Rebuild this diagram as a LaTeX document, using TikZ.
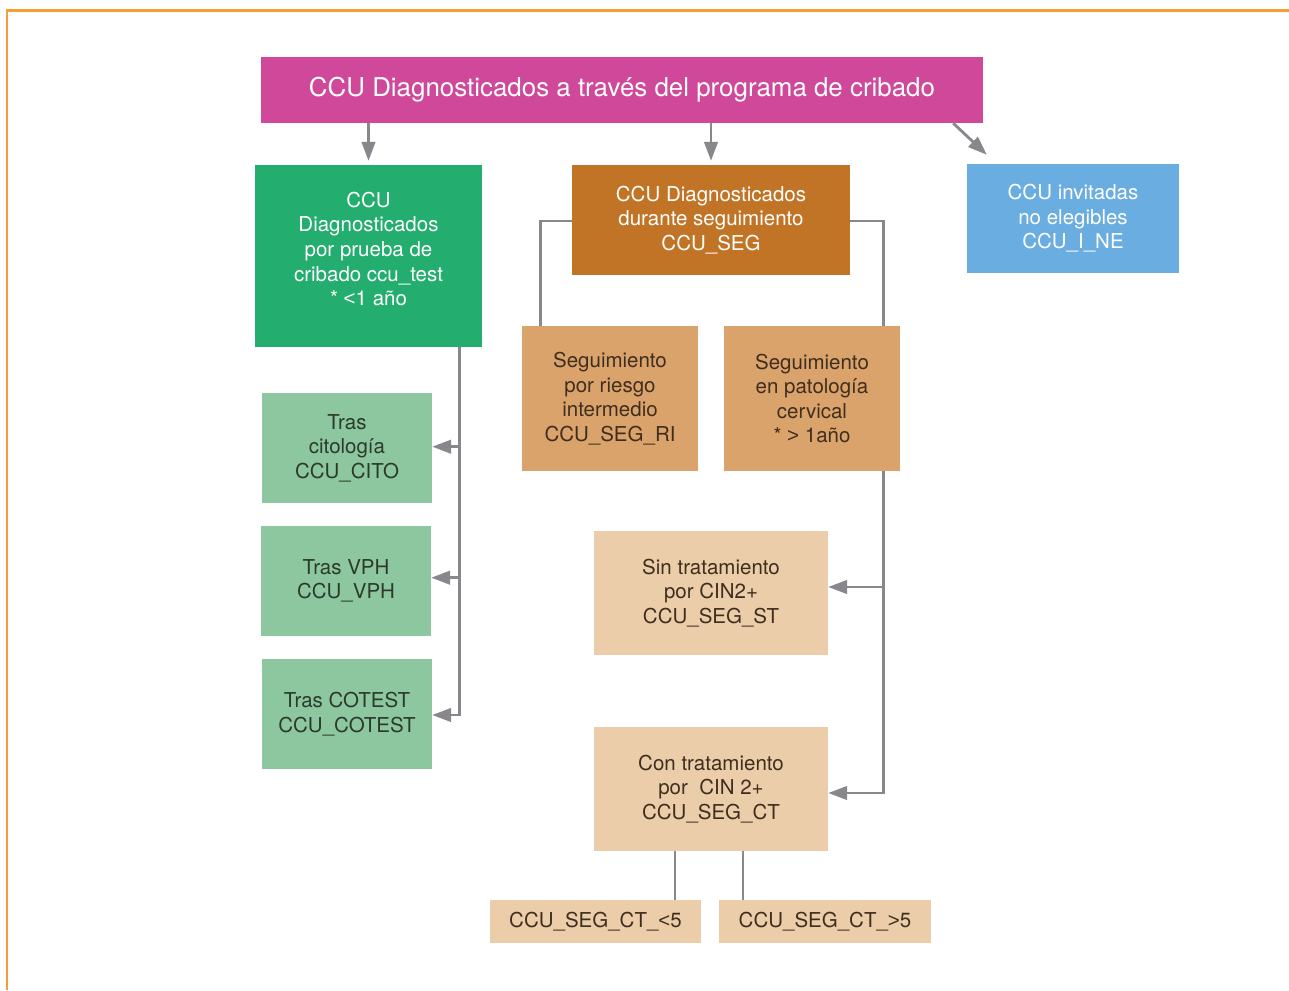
\documentclass[tikz,border=0pt]{standalone}
\usepackage{fontspec}
\setmainfont{TeX Gyre Heros}
\newfontfamily\cmpfont{Liberation Sans}
\newcommand{\lessthan}{{\cmpfont <}}
\newcommand{\morethan}{{\cmpfont >}}
\usetikzlibrary{arrows.meta,calc}

\definecolor{frameorange}{HTML}{F89D35}
\definecolor{titlemag}{HTML}{CF4899}
\definecolor{dgreen}{HTML}{23AD6E}
\definecolor{dorange}{HTML}{C17425}
\definecolor{lblue}{HTML}{6AADE0}
\definecolor{morange}{HTML}{DBA36C}
\definecolor{lgreen}{HTML}{8DC79F}
\definecolor{peach}{HTML}{EBCDA9}
\definecolor{linegray}{HTML}{87888C}
\definecolor{txtbrown}{HTML}{3F2E1E}
\definecolor{txtgreen}{HTML}{2B3A2B}

\tikzset{
  box/.style={rectangle, inner sep=0pt, align=center,
    font=\fontsize{20.5}{24.6}\selectfont},
  darkbox/.style={box, text=white},
  lightbox/.style={box, text=txtbrown},
  greenbox/.style={box, fill=lgreen, text=txtgreen,
    minimum width=170pt, minimum height=110pt},
  conn/.style={draw=linegray, line width=2.8pt},
  arr/.style={conn, -{Triangle[length=19pt,width=13.5pt]}},
}

\begin{document}
\begin{tikzpicture}[x=1pt,y=-1pt]
\useasboundingbox (0,0) rectangle (1289,990);

% frame
\draw[frameorange, line width=2.4pt] (7,990) -- (7,10.5) -- (1289,10.5);

% title
\node[darkbox, fill=titlemag, minimum width=722pt, minimum height=66pt,
  font=\fontsize{25.9}{30}\selectfont] (title) at (622,90)
  {CCU Diagnosticados a través del programa de cribado};

% second level
\node[box, fill=dgreen, minimum width=227pt, minimum height=182pt] (diag) at (368.5,256) {};
\node[darkbox] (diagtext) at ($(diag.center)+(0,-7)$)
  {CCU\\Diagnosticados\\por prueba de\\cribado ccu\_test\\* \lessthan1 año};
\node[darkbox, fill=dorange, minimum width=278pt, minimum height=110pt] (seg) at (711,220)
  {CCU Diagnosticados\\durante seguimiento\\CCU\_SEG};
\node[darkbox, fill=lblue, minimum width=212pt, minimum height=109pt] (ine) at (1073,218.5)
  {CCU invitadas\\no elegibles\\CCU\_I\_NE};

% follow-up branches
\node[lightbox, fill=morange, minimum width=176pt, minimum height=145pt] (ri) at (610,398.5)
  {Seguimiento\\por riesgo\\intermedio\\CCU\_SEG\_RI};
\node[lightbox, fill=morange, minimum width=176pt, minimum height=145pt] (pat) at (812,398.5)
  {Seguimiento\\en patología\\cervical\\* \morethan\ 1año};

% screening test branches
\node[greenbox] (cito) at (347,448) {Tras\\citología\\CCU\_CITO};
\node[greenbox] (vph) at (346,581) {Tras VPH\\CCU\_VPH};
\node[greenbox] (cotest) at (347,714) {Tras COTEST\\CCU\_COTEST};

% treatment branches
\node[lightbox, fill=peach, minimum width=234pt, minimum height=124pt] (sin) at (711,593)
  {Sin tratamiento\\por CIN2+\\CCU\_SEG\_ST};
\node[lightbox, fill=peach, minimum width=234pt, minimum height=124pt] (con) at (711,789)
  {Con tratamiento\\por\ \ CIN 2+\\CCU\_SEG\_CT};
\node[lightbox, fill=peach, minimum width=211pt, minimum height=43pt] (ctlt) at (595.5,921.5)
  {CCU\_SEG\_CT\_\lessthan5};
\node[lightbox, fill=peach, minimum width=212pt, minimum height=43pt] (ctgt) at (825,921.5)
  {CCU\_SEG\_CT\_\morethan5};

% connectors from the title
\draw[arr, shorten >=4pt] (title.south -| diag.north) -- (diag.north);
\draw[arr, shorten >=4pt] (title.south -| seg.north) -- (seg.north);
\draw[arr] ($(title.south east)+(-30,0)$) -- ($(ine.north west)+(20,-9)$);

% follow-up split
\draw[conn] ($(seg.west)+(0,1)$) -| ($(ri.north west)+(19,0)$);
\draw[conn] ($(seg.east)+(0,1)$) -| ($(pat.north east)+(-17,0)$);

% screening test trunk
\coordinate (gtop) at ($(diag.south east)+(-23,0)$);
\coordinate (citoin) at ($(cito.east)+(0,-1.3)$);
\coordinate (vphin) at ($(vph.east)+(0,-3.3)$);
\draw[arr] (gtop) |- ($(cotest.east)+(0,1)$);
\draw[arr] (citoin -| gtop) -- (citoin);
\draw[arr] (vphin -| gtop) -- (vphin);

% treatment trunk
\coordinate (ptop) at ($(pat.south east)+(-17,0)$);
\coordinate (sinin) at ($(sin.east)+(0,-6)$);
\draw[arr] (ptop) |- ($(con.east)+(0,4)$);
\draw[arr] (sinin -| ptop) -- (sinin);

% time-since-treatment split
\draw[conn] (con.south -| 675,0) -- (ctlt.north -| 675,0);
\draw[conn] (con.south -| 743,0) -- (ctgt.north -| 743,0);
\end{tikzpicture}
\end{document}
